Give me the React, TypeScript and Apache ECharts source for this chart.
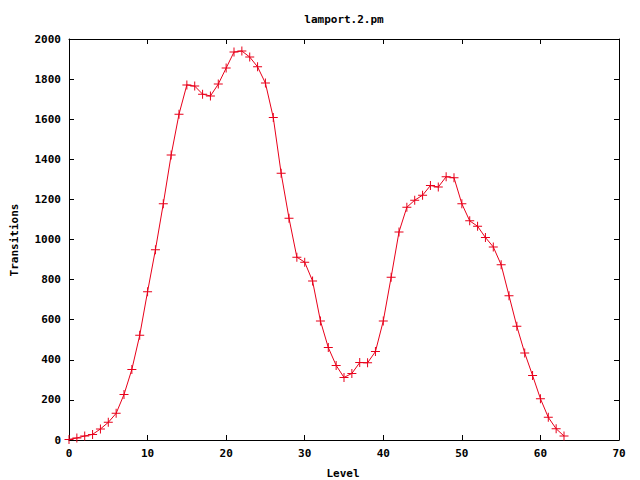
import React, { useEffect, useRef } from "react";
import * as echarts from "echarts";

const levels: number[] = [
  0, 1, 2, 3, 4, 5, 6, 7, 8, 9, 10, 11, 12, 13, 14, 15, 16, 17, 18, 19, 20,
  21, 22, 23, 24, 25, 26, 27, 28, 29, 30, 31, 32, 33, 34, 35, 36, 37, 38, 39,
  40, 41, 42, 43, 44, 45, 46, 47, 48, 49, 50, 51, 52, 53, 54, 55, 56, 57, 58,
  59, 60, 61, 62, 63,
];
const transitions: number[] = [
  3, 10, 20, 28, 55, 88, 133, 227, 352, 522, 740, 949, 1178, 1421, 1625, 1771,
  1765, 1725, 1716, 1775, 1855, 1935, 1940, 1910, 1861, 1780, 1608, 1330, 1106,
  912, 887, 793, 594, 461, 372, 312, 332, 386, 385, 441, 594, 812, 1038, 1161,
  1196, 1221, 1269, 1262, 1313, 1308, 1178, 1093, 1066, 1010, 963, 874, 720,
  567, 434, 322, 206, 113, 56, 20,
];
const chartTitle = "lamport.2.pm";
const xName = "Level";
const yName = "Transitions";

const FONT = "'DejaVu Sans Mono', 'Liberation Mono', monospace";
const RED = "#e8001a";

export default function App() {
  const ref = useRef<HTMLDivElement>(null);
  useEffect(() => {
    if (!ref.current) return;
    const chart = echarts.init(ref.current, null, { renderer: "svg" });
    const axisCommon = {
      axisLine: { show: true, onZero: false, lineStyle: { color: "#000", width: 1 } },
      axisTick: { show: true, inside: true, length: 5, lineStyle: { color: "#000" } },
      splitLine: { show: false },
    };
    const labelStyle = {
      color: "#000",
      fontFamily: FONT,
      fontWeight: "bold",
      fontSize: 11,
      margin: 8,
      formatter: (v: number) => String(v),
    };
    chart.setOption({
      animation: false,
      backgroundColor: "#fff",
      grid: { left: 69, right: 21, top: 39, bottom: 40, containLabel: false },
      xAxis: [
        { type: "value", min: 0, max: 70, interval: 10, position: "bottom", ...axisCommon, axisLabel: labelStyle },
        { type: "value", min: 0, max: 70, interval: 10, position: "top", ...axisCommon, axisLabel: { show: false } },
      ],
      yAxis: [
        { type: "value", min: 0, max: 2000, interval: 200, position: "left", ...axisCommon, axisLabel: labelStyle },
        { type: "value", min: 0, max: 2000, interval: 200, position: "right", ...axisCommon, axisLabel: { show: false } },
      ],
      graphic: [
        {
          type: "text",
          x: 344,
          y: 19,
          style: { text: chartTitle, fill: "#000", font: `bold 11px ${FONT}`, textAlign: "center", textVerticalAlign: "middle" },
        },
        {
          type: "text",
          x: 343,
          y: 473,
          style: { text: xName, fill: "#000", font: `bold 11px ${FONT}`, textAlign: "center", textVerticalAlign: "middle" },
        },
        {
          type: "text",
          x: 14,
          y: 240,
          rotation: Math.PI / 2,
          style: { text: yName, fill: "#000", font: `bold 11px ${FONT}`, textAlign: "center", textVerticalAlign: "middle" },
        },
      ],
      series: [
        {
          type: "line",
          data: levels.map((l, i) => [l, transitions[i]]),
          symbol: "path://M4,0H5V4H9V5H5V9H4V5H0V4H4Z",
          symbolSize: 9,
          showAllSymbol: true,
          itemStyle: { color: RED, borderWidth: 0 },
          lineStyle: { color: RED, width: 1 },
        },
      ],
    });
    return () => chart.dispose();
  }, []);
  return <div ref={ref} style={{ width: 640, height: 480, position: "absolute", left: 0, top: 0 }} />;
}
